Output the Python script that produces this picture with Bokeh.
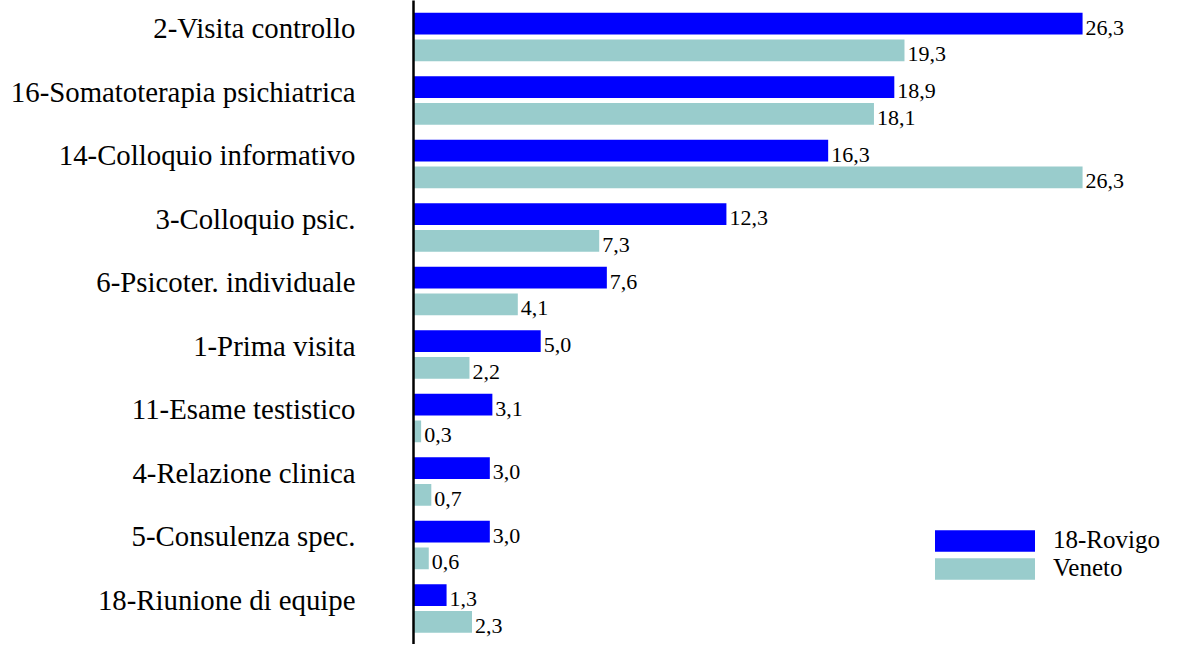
from bokeh.plotting import figure
from bokeh.models import (ColumnDataSource, Range1d, LinearAxis, FixedTicker,
                          Legend, LegendItem)
from bokeh.transform import dodge
from bokeh.core.properties import value
from bokeh.embed import file_html
from bokeh.resources import INLINE

categories = ["2-Visita controllo", "16-Somatoterapia psichiatrica",
              "14-Colloquio informativo", "3-Colloquio psic.",
              "6-Psicoter. individuale", "1-Prima visita",
              "11-Esame testistico", "4-Relazione clinica",
              "5-Consulenza spec.", "18-Riunione di equipe"]
rovigo = [26.3, 18.9, 16.3, 12.3, 7.6, 5.0, 3.1, 3.0, 3.0, 1.3]
veneto = [19.3, 18.1, 26.3, 7.3, 4.1, 2.2, 0.3, 0.7, 0.6, 2.3]
series_names = ["18-Rovigo", "Veneto"]
colors = ["#0000FF", "#99CCCC"]

FONT = "Liberation Serif"

pos = list(range(len(categories)))
src = ColumnDataSource(dict(
    pos=pos,
    rovigo=rovigo,
    veneto=veneto,
    rovigo_lbl=[f"{v:.1f}".replace(".", ",") for v in rovigo],
    veneto_lbl=[f"{v:.1f}".replace(".", ",") for v in veneto],
))

W, H = 1165, 644
LEFT = 413
PITCH = 63.5
TOP_V = -36.5 / PITCH
BOT_V = TOP_V + H / PITCH
p = figure(width=W, height=H, output_backend="svg", toolbar_location=None,
           x_range=Range1d(0, (W - LEFT) / 25.44),
           y_range=Range1d(BOT_V, TOP_V),
           x_axis_location=None, y_axis_location=None,
           min_border_left=LEFT, min_border_right=0,
           min_border_top=0, min_border_bottom=0)
p.outline_line_color = None
p.xgrid.visible = False
p.ygrid.visible = False
p.background_fill_color = "white"
p.border_fill_color = "white"

BH = 0.34
D = 0.21
r1 = p.hbar(y=dodge("pos", -D, range=p.y_range), right="rovigo", left=0,
            height=BH, source=src, fill_color=colors[0], line_color=None)
r2 = p.hbar(y=dodge("pos", D, range=p.y_range), right="veneto", left=0,
            height=BH, source=src, fill_color=colors[1], line_color=None)

p.text(x="rovigo", y=dodge("pos", -D, range=p.y_range), text="rovigo_lbl",
       source=src, x_offset=3, y_offset=4, text_font=value(FONT),
       text_font_size="22px", text_baseline="middle", text_align="left",
       text_color="black")
p.text(x="veneto", y=dodge("pos", D, range=p.y_range), text="veneto_lbl",
       source=src, x_offset=3, y_offset=4, text_font=value(FONT),
       text_font_size="22px", text_baseline="middle", text_align="left",
       text_color="black")

SH = 0.14
p.extra_y_ranges = {"lab": Range1d(BOT_V + SH, TOP_V + SH)}
yax = LinearAxis(y_range_name="lab",
                 ticker=FixedTicker(ticks=pos),
                 major_label_overrides={i: c for i, c in zip(pos, categories)})
yax.axis_line_color = "black"
yax.axis_line_width = 2.5
yax.major_tick_line_color = None
yax.minor_tick_line_color = None
yax.major_tick_out = 0
yax.major_tick_in = 0
yax.major_label_standoff = 58
yax.major_label_text_font = FONT
yax.major_label_text_font_size = "28.8px"
yax.major_label_text_color = "black"
p.add_layout(yax, "left")

legend = Legend(items=[LegendItem(label=series_names[0], renderers=[r1]),
                       LegendItem(label=series_names[1], renderers=[r2])],
                location=(509, 62), orientation="vertical")
legend.glyph_width = 125
legend.glyph_height = 27
legend.label_standoff = 6
legend.spacing = 0
legend.padding = 0
legend.margin = 0
legend.label_height = 27
legend.border_line_color = None
legend.background_fill_alpha = 0
legend.label_text_font = FONT
legend.label_text_font_size = "25px"
legend.label_text_color = "black"
p.add_layout(legend)

open("out.html", "w").write(file_html(p, INLINE))
